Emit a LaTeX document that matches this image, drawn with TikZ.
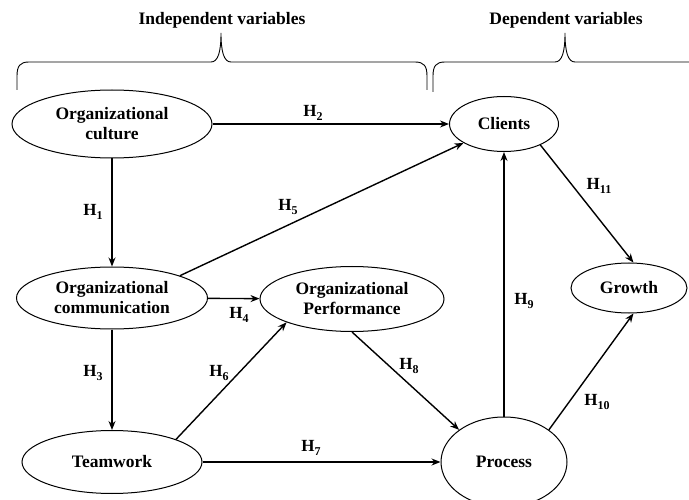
\documentclass[tikz,border=0pt]{standalone}
\usepackage{fontspec}
\setmainfont{Liberation Serif}
\usetikzlibrary{shapes.geometric,arrows.meta}
\newcommand{\hyplabel}[1]{H\raisebox{-3.5pt}{\fontsize{12}{12}\selectfont #1}}

\begin{document}
\begin{tikzpicture}[x=1pt,y=-1pt]
\tikzstyle{every node}+=[inner sep=0pt,font=\bfseries\fontsize{17.5}{20}\selectfont]
\tikzstyle{var}=[draw,ellipse,line width=1pt,align=center]
\tikzstyle{hyp}=[font=\bfseries\fontsize{17}{18}\selectfont]
\tikzstyle{arr}=[line width=1.4pt,-{Stealth[length=9pt,width=7pt]}]
\useasboundingbox (0,0) rectangle (689,500);
% variables
\node [var,minimum width=200,minimum height=68] (culture) at (112,124) {Organizational\\culture};
\node [var,minimum width=191,minimum height=62] (comm) at (112,298) {Organizational\\communication};
\node [var,minimum width=180,minimum height=63] (team) at (112,462) {Teamwork};
\node [var,minimum width=184,minimum height=65] (perf) at (352,299) {Organizational\\Performance};
\node [var,minimum width=109,minimum height=55] (clients) at (504,124) {Clients};
\node [var,minimum width=116,minimum height=50] (growth) at (629,288) {Growth};
\node [var,minimum width=126,minimum height=90] (process) at (504,462) {Process};
% braces
\node (indep) at (222,20) {Independent variables};
\node (dep) at (566,20) {Dependent variables};
\draw [line width=0.9pt] (17,90) -- (17,76) .. controls (17,66) and (20,62) .. (29,62) -- (211,62)
  .. controls (218,62) and (221,52) .. (221,33) .. controls (221,52) and (224,62) .. (231,62)
  -- (415,62) .. controls (424,62) and (427,66) .. (427,76) -- (427,90);
\draw [line width=0.9pt] (433,92) -- (433,76) .. controls (433,66) and (436,62) .. (445,62) -- (555,62)
  .. controls (562,62) and (565,52) .. (565,33) .. controls (565,52) and (568,62) .. (575,62) -- (689,62);
% hypotheses
\draw [arr] (culture) -- (comm);
\node [hyp] (h1) at (93,212) {\hyplabel{1}};
\draw [arr] (culture) -- (clients);
\node [hyp] (h2) at (313,113) {\hyplabel{2}};
\draw [arr] (comm) -- (team);
\node [hyp] (h3) at (93,373) {\hyplabel{3}};
\draw [arr] (comm) -- (perf);
\node [hyp] (h4) at (239,315) {\hyplabel{4}};
\draw [arr] (comm.north east) -- (clients);
\node [hyp] (h5) at (288,207) {\hyplabel{5}};
\draw [arr] (team.north east) -- (perf.south west);
\node [hyp] (h6) at (219,373) {\hyplabel{6}};
\draw [arr] (team) -- (process);
\node [hyp] (h7) at (311,448) {\hyplabel{7}};
\draw [arr] (perf.south) -- (process.north west);
\node [hyp] (h8) at (409,366) {\hyplabel{8}};
\draw [arr] (process.north) -- (clients.south);
\node [hyp] (h9) at (524,301) {\hyplabel{9}};
\draw [arr] (process.north east) -- (growth.-80);
\node [hyp] (h10) at (597,402) {\hyplabel{10}};
\draw [arr] (clients.-30) -- (growth.80);
\node [hyp] (h11) at (599,186) {\hyplabel{11}};
\end{tikzpicture}
\end{document}
